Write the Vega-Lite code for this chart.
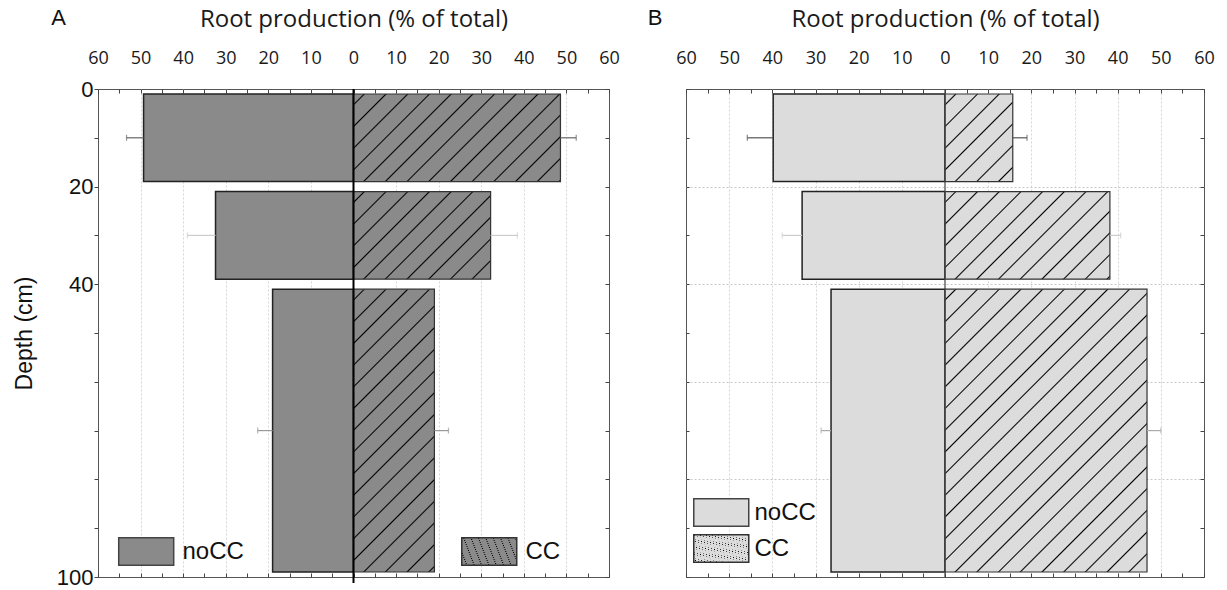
{
"$schema": "https://vega.github.io/schema/vega-lite/v6.json",
"background": "white",
"padding": {"left": 12, "top": 6, "right": 5, "bottom": 5},
"spacing": 27,
"config": {"view": {"stroke": "#555", "strokeWidth": 1}, "legend": {"layout": {"direction": "vertical", "margin": 4, "bottom-left": {"direction": "vertical", "margin": 4}}}},
"data": {"values": [
{"panel":"A","trt":"noCC","top":0,"bottom":20,"mid":10,"value":49.3,"upper":53.3},
{"panel":"A","trt":"noCC","top":20,"bottom":40,"mid":30,"value":32.4,"upper":39.0},
{"panel":"A","trt":"noCC","top":40,"bottom":100,"mid":70,"value":19.0,"upper":22.5},
{"panel":"A","trt":"CC","top":0,"bottom":20,"mid":10,"value":48.6,"upper":52.3},
{"panel":"A","trt":"CC","top":20,"bottom":40,"mid":30,"value":32.2,"upper":38.5},
{"panel":"A","trt":"CC","top":40,"bottom":100,"mid":70,"value":19.0,"upper":22.3},
{"panel":"B","trt":"noCC","top":0,"bottom":20,"mid":10,"value":39.8,"upper":45.8},
{"panel":"B","trt":"noCC","top":20,"bottom":40,"mid":30,"value":33.1,"upper":37.7},
{"panel":"B","trt":"noCC","top":40,"bottom":100,"mid":70,"value":26.4,"upper":28.7},
{"panel":"B","trt":"CC","top":0,"bottom":20,"mid":10,"value":15.7,"upper":19.0},
{"panel":"B","trt":"CC","top":20,"bottom":40,"mid":30,"value":38.2,"upper":40.7},
{"panel":"B","trt":"CC","top":40,"bottom":100,"mid":70,"value":46.8,"upper":50.0}
]},
"hconcat": [
{
"width": 511, "height": 488,
"title": {"text": "A", "anchor": "start", "font": "Liberation Sans", "fontSize": 22, "fontWeight": "normal", "color": "#111", "dx": 38, "dy": 27},
"transform": [{"filter": "datum.panel === 'A'"}],
"layer": [
{
"transform": [{"filter": "datum.trt === 'noCC'"}],
"mark": {"type": "bar", "yOffset": 5, "y2Offset": -5, "stroke": "#222", "strokeWidth": 1.5},
"encoding": {
"x": {"field": "value", "type": "quantitative", "scale": {"domain": [-60, 60], "reverse": true, "nice": false, "zero": false},
 "axis": {"orient": "bottom", "values": [-60,-55,-50,-45,-40,-35,-30,-25,-20,-15,-10,-5,0,5,10,15,20,25,30,35,40,45,50,55,60], "labels": false, "title": null, "tickSize": -4, "tickColor": "#444", "domain": false, "grid": false}},
"x2": {"datum": 0},
"y": {"field": "top", "type": "quantitative", "scale": {"domain": [0, 100], "reverse": true, "nice": false},
 "axis": {"orient": "right", "values": [0,10,20,30,40,50,60,70,80,90,100], "labels": false, "title": null, "tickSize": -4, "tickColor": "#444", "domain": false, "grid": false}},
"y2": {"field": "bottom"},
"fill": {"field": "trt", "type": "nominal", "scale": {"domain": ["noCC"], "range": ["#8a8a8a"]},
 "legend": {"title": null, "orient": "bottom-left", "offset": 8,
  "symbolType": "M-0.13,-1H3.87V1H-0.13Z", "symbolSize": 756, "symbolStrokeWidth": 1.5, "symbolStrokeColor": "#444", "symbolOpacity": 1,
  "labelFont": "Liberation Sans", "labelFontSize": 24, "labelColor": "#111", "labelOffset": 47.5}}
}
},
{
"transform": [{"filter": "datum.trt === 'noCC'"}],
"mark": {"type": "rule", "strokeWidth": 1.2},
"encoding": {
"x": {"field": "value", "type": "quantitative", "scale": {"domain": [-60, 60], "reverse": true, "nice": false, "zero": false}, "axis": null},
"x2": {"field": "upper"},
"y": {"field": "mid", "type": "quantitative", "scale": {"domain": [0, 100], "reverse": true, "nice": false}, "axis": null},
"color": {"field": "top", "type": "ordinal", "scale": {"domain": [0, 20, 40], "range": ["#666666", "#cccccc", "#999999"]}, "legend": null}
}
},
{
"transform": [{"filter": "datum.trt === 'noCC'"}],
"mark": {"type": "tick", "orient": "vertical", "size": 6, "thickness": 1.2},
"encoding": {
"x": {"field": "upper", "type": "quantitative", "scale": {"domain": [-60, 60], "reverse": true, "nice": false, "zero": false}, "axis": null},
"y": {"field": "mid", "type": "quantitative", "scale": {"domain": [0, 100], "reverse": true, "nice": false}, "axis": null},
"color": {"field": "top", "type": "ordinal", "scale": {"domain": [0, 20, 40], "range": ["#666666", "#cccccc", "#999999"]}, "legend": null}
}
},
{
"transform": [{"filter": "datum.trt === 'CC'"}],
"mark": {"type": "bar", "yOffset": 5, "y2Offset": -5, "strokeWidth": 1.2},
"encoding": {
"x": {"field": "value", "type": "quantitative", "scale": {"domain": [-60, 60], "nice": false, "zero": false},
 "axis": {"orient": "top", "values": [-60,-55,-50,-45,-40,-35,-30,-25,-20,-15,-10,-5,0,5,10,15,20,25,30,35,40,45,50,55,60],
  "labelExpr": "datum.value % 10 === 0 ? abs(datum.value) : ''", "labelOverlap": false, "labelFlush": false, "labelBound": false,
  "title": "Root production (% of total)", "titleFont": "Open Sans", "titleFontSize": 24, "titleFontWeight": "normal", "titleColor": "#1a1a1a", "titlePadding": 18,
  "labelFont": "Open Sans", "labelFontSize": 18, "labelColor": "#1a1a1a", "labelPadding": 26, "tickSize": -4, "tickColor": "#444", "domain": false,
  "grid": true, "gridColor": "#d6d6d6", "gridDash": [2, 2], "gridOpacity": {"condition": {"test": "datum.value % 10 === 0 && abs(datum.value) < 60 && datum.value !== 0", "value": 1}, "value": 0}}},
"x2": {"datum": 0},
"y": {"field": "top", "type": "quantitative", "scale": {"domain": [0, 100], "reverse": true, "nice": false},
 "axis": {"orient": "left", "values": [0,10,20,30,40,50,60,70,80,90,100], "labelExpr": "(datum.value === 0 || datum.value === 20 || datum.value === 40 || datum.value === 100) ? datum.value : ''",
  "labelOverlap": false, "labelFlush": false, "labelBound": false,
  "title": "Depth (cm)", "titleFont": "Liberation Sans", "titleFontSize": 23, "titleFontWeight": "normal", "titleColor": "#111", "titlePadding": 20,
  "labelFont": "Liberation Sans", "labelFontSize": 22, "labelColor": "#111", "labelPadding": 1, "tickSize": 4, "tickColor": "#444", "domain": false, "grid": false}},
"y2": {"field": "bottom"},
"stroke": {"field": "trt", "type": "nominal", "scale": {"domain": ["CC"], "range": ["#333333"]},
 "legend": {"title": " ", "titleOrient": "right", "titlePadding": 41, "titleFontSize": 24, "orient": "bottom-right", "offset": 8,
  "symbolType": "M-1,-1H3V1H-1Z", "symbolSize": 756, "symbolStrokeWidth": 1.5, "symbolOpacity": 1,
  "labelFont": "Liberation Sans", "labelFontSize": 24, "labelColor": "#111", "labelOffset": 35.5}},
"fill": {"condition": [
 {"test": "datum.top < 0", "value": {"gradient":"linear","x1":-125,"y1":-125,"x2":125,"y2":125,"stops":[{"offset":0,"color":"#8a8a8a"},
{"offset":0.3231,"color":"#8a8a8a"},{"offset":0.3261,"color":"#000"},{"offset":0.3291,"color":"#8a8a8a"},
{"offset":0.3666,"color":"#8a8a8a"},{"offset":0.3696,"color":"#000"},{"offset":0.3726,"color":"#8a8a8a"},
{"offset":0.4100,"color":"#8a8a8a"},{"offset":0.4130,"color":"#000"},{"offset":0.4160,"color":"#8a8a8a"},
{"offset":0.4535,"color":"#8a8a8a"},{"offset":0.4565,"color":"#000"},{"offset":0.4595,"color":"#8a8a8a"},
{"offset":0.4970,"color":"#8a8a8a"},{"offset":0.5000,"color":"#000"},{"offset":0.5030,"color":"#8a8a8a"},
{"offset":0.5405,"color":"#8a8a8a"},{"offset":0.5435,"color":"#000"},{"offset":0.5465,"color":"#8a8a8a"},
{"offset":0.5840,"color":"#8a8a8a"},{"offset":0.5870,"color":"#000"},{"offset":0.5900,"color":"#8a8a8a"},
{"offset":0.6274,"color":"#8a8a8a"},{"offset":0.6304,"color":"#000"},{"offset":0.6334,"color":"#8a8a8a"},
{"offset":0.6709,"color":"#8a8a8a"},{"offset":0.6739,"color":"#000"},{"offset":0.6769,"color":"#8a8a8a"},
{"offset":0.7144,"color":"#8a8a8a"},{"offset":0.7174,"color":"#000"},{"offset":0.7204,"color":"#8a8a8a"},
{"offset":1,"color":"#8a8a8a"}]}},
 {"test": "datum.top === 0", "value": {"gradient":"linear","x1":0,"y1":0,"x2":2.0456,"y2":0.8661,"stops":[{"offset":0,"color":"#8a8a8a"},
{"offset":0.0187,"color":"#8a8a8a"},{"offset":0.0217,"color":"#000"},{"offset":0.0247,"color":"#8a8a8a"},
{"offset":0.0622,"color":"#8a8a8a"},{"offset":0.0652,"color":"#000"},{"offset":0.0682,"color":"#8a8a8a"},
{"offset":0.1057,"color":"#8a8a8a"},{"offset":0.1087,"color":"#000"},{"offset":0.1117,"color":"#8a8a8a"},
{"offset":0.1492,"color":"#8a8a8a"},{"offset":0.1522,"color":"#000"},{"offset":0.1552,"color":"#8a8a8a"},
{"offset":0.1927,"color":"#8a8a8a"},{"offset":0.1957,"color":"#000"},{"offset":0.1987,"color":"#8a8a8a"},
{"offset":0.2361,"color":"#8a8a8a"},{"offset":0.2391,"color":"#000"},{"offset":0.2421,"color":"#8a8a8a"},
{"offset":0.2796,"color":"#8a8a8a"},{"offset":0.2826,"color":"#000"},{"offset":0.2856,"color":"#8a8a8a"},
{"offset":0.3231,"color":"#8a8a8a"},{"offset":0.3261,"color":"#000"},{"offset":0.3291,"color":"#8a8a8a"},
{"offset":0.3666,"color":"#8a8a8a"},{"offset":0.3696,"color":"#000"},{"offset":0.3726,"color":"#8a8a8a"},
{"offset":0.4100,"color":"#8a8a8a"},{"offset":0.4130,"color":"#000"},{"offset":0.4160,"color":"#8a8a8a"},
{"offset":0.4535,"color":"#8a8a8a"},{"offset":0.4565,"color":"#000"},{"offset":0.4595,"color":"#8a8a8a"},
{"offset":0.4970,"color":"#8a8a8a"},{"offset":0.5000,"color":"#000"},{"offset":0.5030,"color":"#8a8a8a"},
{"offset":0.5405,"color":"#8a8a8a"},{"offset":0.5435,"color":"#000"},{"offset":0.5465,"color":"#8a8a8a"},
{"offset":0.5840,"color":"#8a8a8a"},{"offset":0.5870,"color":"#000"},{"offset":0.5900,"color":"#8a8a8a"},
{"offset":0.6274,"color":"#8a8a8a"},{"offset":0.6304,"color":"#000"},{"offset":0.6334,"color":"#8a8a8a"},
{"offset":1,"color":"#8a8a8a"}]}},
 {"test": "datum.top === 20", "value": {"gradient":"linear","x1":0,"y1":0,"x2":2.585,"y2":1.6517,"stops":[{"offset":0,"color":"#8a8a8a"},
{"offset":0.0187,"color":"#8a8a8a"},{"offset":0.0217,"color":"#000"},{"offset":0.0247,"color":"#8a8a8a"},
{"offset":0.0622,"color":"#8a8a8a"},{"offset":0.0652,"color":"#000"},{"offset":0.0682,"color":"#8a8a8a"},
{"offset":0.1057,"color":"#8a8a8a"},{"offset":0.1087,"color":"#000"},{"offset":0.1117,"color":"#8a8a8a"},
{"offset":0.1492,"color":"#8a8a8a"},{"offset":0.1522,"color":"#000"},{"offset":0.1552,"color":"#8a8a8a"},
{"offset":0.1927,"color":"#8a8a8a"},{"offset":0.1957,"color":"#000"},{"offset":0.1987,"color":"#8a8a8a"},
{"offset":0.2361,"color":"#8a8a8a"},{"offset":0.2391,"color":"#000"},{"offset":0.2421,"color":"#8a8a8a"},
{"offset":0.2796,"color":"#8a8a8a"},{"offset":0.2826,"color":"#000"},{"offset":0.2856,"color":"#8a8a8a"},
{"offset":0.3231,"color":"#8a8a8a"},{"offset":0.3261,"color":"#000"},{"offset":0.3291,"color":"#8a8a8a"},
{"offset":0.3666,"color":"#8a8a8a"},{"offset":0.3696,"color":"#000"},{"offset":0.3726,"color":"#8a8a8a"},
{"offset":0.4100,"color":"#8a8a8a"},{"offset":0.4130,"color":"#000"},{"offset":0.4160,"color":"#8a8a8a"},
{"offset":0.4535,"color":"#8a8a8a"},{"offset":0.4565,"color":"#000"},{"offset":0.4595,"color":"#8a8a8a"},
{"offset":1,"color":"#8a8a8a"}]}}],
 "value": {"gradient":"linear","x1":0,"y1":0,"x2":0.4667,"y2":1.6314,"stops":[{"offset":0,"color":"#8a8a8a"},
{"offset":0.0187,"color":"#8a8a8a"},{"offset":0.0217,"color":"#000"},{"offset":0.0247,"color":"#8a8a8a"},
{"offset":0.0622,"color":"#8a8a8a"},{"offset":0.0652,"color":"#000"},{"offset":0.0682,"color":"#8a8a8a"},
{"offset":0.1057,"color":"#8a8a8a"},{"offset":0.1087,"color":"#000"},{"offset":0.1117,"color":"#8a8a8a"},
{"offset":0.1492,"color":"#8a8a8a"},{"offset":0.1522,"color":"#000"},{"offset":0.1552,"color":"#8a8a8a"},
{"offset":0.1927,"color":"#8a8a8a"},{"offset":0.1957,"color":"#000"},{"offset":0.1987,"color":"#8a8a8a"},
{"offset":0.2361,"color":"#8a8a8a"},{"offset":0.2391,"color":"#000"},{"offset":0.2421,"color":"#8a8a8a"},
{"offset":0.2796,"color":"#8a8a8a"},{"offset":0.2826,"color":"#000"},{"offset":0.2856,"color":"#8a8a8a"},
{"offset":0.3231,"color":"#8a8a8a"},{"offset":0.3261,"color":"#000"},{"offset":0.3291,"color":"#8a8a8a"},
{"offset":0.3666,"color":"#8a8a8a"},{"offset":0.3696,"color":"#000"},{"offset":0.3726,"color":"#8a8a8a"},
{"offset":0.4100,"color":"#8a8a8a"},{"offset":0.4130,"color":"#000"},{"offset":0.4160,"color":"#8a8a8a"},
{"offset":0.4535,"color":"#8a8a8a"},{"offset":0.4565,"color":"#000"},{"offset":0.4595,"color":"#8a8a8a"},
{"offset":0.4970,"color":"#8a8a8a"},{"offset":0.5000,"color":"#000"},{"offset":0.5030,"color":"#8a8a8a"},
{"offset":0.5405,"color":"#8a8a8a"},{"offset":0.5435,"color":"#000"},{"offset":0.5465,"color":"#8a8a8a"},
{"offset":0.5840,"color":"#8a8a8a"},{"offset":0.5870,"color":"#000"},{"offset":0.5900,"color":"#8a8a8a"},
{"offset":0.6274,"color":"#8a8a8a"},{"offset":0.6304,"color":"#000"},{"offset":0.6334,"color":"#8a8a8a"},
{"offset":0.6709,"color":"#8a8a8a"},{"offset":0.6739,"color":"#000"},{"offset":0.6769,"color":"#8a8a8a"},
{"offset":0.7144,"color":"#8a8a8a"},{"offset":0.7174,"color":"#000"},{"offset":0.7204,"color":"#8a8a8a"},
{"offset":0.7579,"color":"#8a8a8a"},{"offset":0.7609,"color":"#000"},{"offset":0.7639,"color":"#8a8a8a"},
{"offset":1,"color":"#8a8a8a"}]}}
}
},
{
"transform": [{"filter": "datum.trt === 'CC'"}],
"mark": {"type": "rule", "strokeWidth": 1.2},
"encoding": {
"x": {"field": "value", "type": "quantitative", "scale": {"domain": [-60, 60], "nice": false, "zero": false}, "axis": null},
"x2": {"field": "upper"},
"y": {"field": "mid", "type": "quantitative", "scale": {"domain": [0, 100], "reverse": true, "nice": false}, "axis": null},
"color": {"field": "top", "type": "ordinal", "scale": {"domain": [0, 20, 40], "range": ["#666666", "#cccccc", "#999999"]}, "legend": null}
}
},
{
"transform": [{"filter": "datum.trt === 'CC'"}],
"mark": {"type": "tick", "orient": "vertical", "size": 6, "thickness": 1.2},
"encoding": {
"x": {"field": "upper", "type": "quantitative", "scale": {"domain": [-60, 60], "nice": false, "zero": false}, "axis": null},
"y": {"field": "mid", "type": "quantitative", "scale": {"domain": [0, 100], "reverse": true, "nice": false}, "axis": null},
"color": {"field": "top", "type": "ordinal", "scale": {"domain": [0, 20, 40], "range": ["#666666", "#cccccc", "#999999"]}, "legend": null}
}
},
{
"data": {"values": [{}]},
"mark": {"type": "rule", "color": "#000", "strokeWidth": 2, "y2Offset": 6},
"encoding": {
"x": {"datum": 0, "type": "quantitative", "scale": {"domain": [-60, 60], "nice": false, "zero": false}, "axis": null},
"y": {"datum": 0, "type": "quantitative", "scale": {"domain": [0, 100], "reverse": true, "nice": false}, "axis": null},
"y2": {"datum": 100}
}
}
],
"resolve": {"scale": {"x": "independent"}, "axis": {"x": "independent", "y": "independent"}}
},
{
"width": 518, "height": 488,
"title": {"text": "B", "anchor": "start", "font": "Liberation Sans", "fontSize": 22, "fontWeight": "normal", "color": "#111", "dx": -28, "dy": 27},
"transform": [{"filter": "datum.panel === 'B'"}],
"layer": [
{
"transform": [{"filter": "datum.trt === 'noCC'"}],
"mark": {"type": "bar", "yOffset": 5, "y2Offset": -5, "stroke": "#222", "strokeWidth": 1.5},
"encoding": {
"x": {"field": "value", "type": "quantitative", "scale": {"domain": [-60, 60], "reverse": true, "nice": false, "zero": false},
 "axis": {"orient": "bottom", "values": [-60,-55,-50,-45,-40,-35,-30,-25,-20,-15,-10,-5,0,5,10,15,20,25,30,35,40,45,50,55,60], "labels": false, "title": null, "tickSize": -4, "tickColor": "#444", "domain": false, "grid": false}},
"x2": {"datum": 0},
"y": {"field": "top", "type": "quantitative", "scale": {"domain": [0, 100], "reverse": true, "nice": false},
 "axis": {"orient": "right", "values": [0,10,20,30,40,50,60,70,80,90,100], "labels": false, "title": null, "tickSize": -4, "tickColor": "#444", "domain": false, "grid": false}},
"y2": {"field": "bottom"},
"fill": {"field": "trt", "type": "nominal", "scale": {"domain": ["noCC"], "range": ["#dcdcdc"]},
 "legend": {"title": null, "orient": "bottom-left", "offset": 11,
  "symbolType": "M-1.29,-1H2.71V1H-1.29Z", "symbolSize": 756, "symbolStrokeWidth": 1.5, "symbolStrokeColor": "#444", "symbolOpacity": 1,
  "labelFont": "Liberation Sans", "labelFontSize": 24, "labelColor": "#111", "labelOffset": 28.5}}
}
},
{
"transform": [{"filter": "datum.trt === 'noCC'"}],
"mark": {"type": "rule", "strokeWidth": 1.2},
"encoding": {
"x": {"field": "value", "type": "quantitative", "scale": {"domain": [-60, 60], "reverse": true, "nice": false, "zero": false}, "axis": null},
"x2": {"field": "upper"},
"y": {"field": "mid", "type": "quantitative", "scale": {"domain": [0, 100], "reverse": true, "nice": false}, "axis": null},
"color": {"field": "top", "type": "ordinal", "scale": {"domain": [0, 20, 40], "range": ["#555555", "#cccccc", "#aaaaaa"]}, "legend": null}
}
},
{
"transform": [{"filter": "datum.trt === 'noCC'"}],
"mark": {"type": "tick", "orient": "vertical", "size": 6, "thickness": 1.2},
"encoding": {
"x": {"field": "upper", "type": "quantitative", "scale": {"domain": [-60, 60], "reverse": true, "nice": false, "zero": false}, "axis": null},
"y": {"field": "mid", "type": "quantitative", "scale": {"domain": [0, 100], "reverse": true, "nice": false}, "axis": null},
"color": {"field": "top", "type": "ordinal", "scale": {"domain": [0, 20, 40], "range": ["#555555", "#cccccc", "#aaaaaa"]}, "legend": null}
}
},
{
"transform": [{"filter": "datum.trt === 'CC'"}],
"mark": {"type": "bar", "yOffset": 5, "y2Offset": -5, "strokeWidth": 1.2},
"encoding": {
"x": {"field": "value", "type": "quantitative", "scale": {"domain": [-60, 60], "nice": false, "zero": false},
 "axis": {"orient": "top", "values": [-60,-55,-50,-45,-40,-35,-30,-25,-20,-15,-10,-5,0,5,10,15,20,25,30,35,40,45,50,55,60],
  "labelExpr": "datum.value % 10 === 0 ? abs(datum.value) : ''", "labelOverlap": false, "labelFlush": false, "labelBound": false,
  "title": "Root production (% of total)", "titleFont": "Open Sans", "titleFontSize": 24, "titleFontWeight": "normal", "titleColor": "#1a1a1a", "titlePadding": 18,
  "labelFont": "Open Sans", "labelFontSize": 18, "labelColor": "#1a1a1a", "labelPadding": 26, "tickSize": -4, "tickColor": "#444", "domain": false,
  "grid": true, "gridColor": "#d6d6d6", "gridDash": [2, 2], "gridOpacity": {"condition": {"test": "datum.value % 10 === 0 && abs(datum.value) < 60 && datum.value !== 0", "value": 1}, "value": 0}}},
"x2": {"datum": 0},
"y": {"field": "top", "type": "quantitative", "scale": {"domain": [0, 100], "reverse": true, "nice": false},
 "axis": {"orient": "left", "values": [0,10,20,30,40,50,60,70,80,90,100], "labels": false, "title": null, "tickSize": -3, "tickColor": "#444", "domain": false,
  "grid": true, "gridColor": "#c8c8c8", "gridDash": [2, 2], "gridOpacity": {"condition": {"test": "datum.value % 20 === 0 && datum.value > 0 && datum.value < 100", "value": 1}, "value": 0}}},
"y2": {"field": "bottom"},
"stroke": {"field": "trt", "type": "nominal", "scale": {"domain": ["CC"], "range": ["#333333"]},
 "legend": {"title": null, "orient": "bottom-left", "offset": 11,
  "symbolType": "M-1.29,-1H2.71V1H-1.29Z", "symbolSize": 756, "symbolStrokeWidth": 1.5, "symbolOpacity": 1,
  "labelFont": "Liberation Sans", "labelFontSize": 24, "labelColor": "#111", "labelOffset": 28.5}},
"fill": {"condition": [
 {"test": "datum.top < 0", "value": {"gradient":"linear","x1":-125,"y1":-125,"x2":125,"y2":125,"stops":[{"offset":0,"color":"#dcdcdc"},
{"offset":0.3231,"color":"#dcdcdc"},{"offset":0.3261,"color":"#000"},{"offset":0.3291,"color":"#dcdcdc"},
{"offset":0.3666,"color":"#dcdcdc"},{"offset":0.3696,"color":"#000"},{"offset":0.3726,"color":"#dcdcdc"},
{"offset":0.4100,"color":"#dcdcdc"},{"offset":0.4130,"color":"#000"},{"offset":0.4160,"color":"#dcdcdc"},
{"offset":0.4535,"color":"#dcdcdc"},{"offset":0.4565,"color":"#000"},{"offset":0.4595,"color":"#dcdcdc"},
{"offset":0.4970,"color":"#dcdcdc"},{"offset":0.5000,"color":"#000"},{"offset":0.5030,"color":"#dcdcdc"},
{"offset":0.5405,"color":"#dcdcdc"},{"offset":0.5435,"color":"#000"},{"offset":0.5465,"color":"#dcdcdc"},
{"offset":0.5840,"color":"#dcdcdc"},{"offset":0.5870,"color":"#000"},{"offset":0.5900,"color":"#dcdcdc"},
{"offset":0.6274,"color":"#dcdcdc"},{"offset":0.6304,"color":"#000"},{"offset":0.6334,"color":"#dcdcdc"},
{"offset":0.6709,"color":"#dcdcdc"},{"offset":0.6739,"color":"#000"},{"offset":0.6769,"color":"#dcdcdc"},
{"offset":0.7144,"color":"#dcdcdc"},{"offset":0.7174,"color":"#000"},{"offset":0.7204,"color":"#dcdcdc"},
{"offset":1,"color":"#dcdcdc"}]}},
 {"test": "datum.top === 0", "value": {"gradient":"linear","x1":0,"y1":0,"x2":2.758,"y2":3.563,"stops":[{"offset":0,"color":"#dcdcdc"},
{"offset":0.0187,"color":"#dcdcdc"},{"offset":0.0217,"color":"#000"},{"offset":0.0247,"color":"#dcdcdc"},
{"offset":0.0622,"color":"#dcdcdc"},{"offset":0.0652,"color":"#000"},{"offset":0.0682,"color":"#dcdcdc"},
{"offset":0.1057,"color":"#dcdcdc"},{"offset":0.1087,"color":"#000"},{"offset":0.1117,"color":"#dcdcdc"},
{"offset":0.1492,"color":"#dcdcdc"},{"offset":0.1522,"color":"#000"},{"offset":0.1552,"color":"#dcdcdc"},
{"offset":0.1927,"color":"#dcdcdc"},{"offset":0.1957,"color":"#000"},{"offset":0.1987,"color":"#dcdcdc"},
{"offset":0.2361,"color":"#dcdcdc"},{"offset":0.2391,"color":"#000"},{"offset":0.2421,"color":"#dcdcdc"},
{"offset":0.2796,"color":"#dcdcdc"},{"offset":0.2826,"color":"#000"},{"offset":0.2856,"color":"#dcdcdc"},
{"offset":0.3231,"color":"#dcdcdc"},{"offset":0.3261,"color":"#000"},{"offset":0.3291,"color":"#dcdcdc"},
{"offset":1,"color":"#dcdcdc"}]}},
 {"test": "datum.top === 20", "value": {"gradient":"linear","x1":0,"y1":0,"x2":2.3605,"y2":1.254,"stops":[{"offset":0,"color":"#dcdcdc"},
{"offset":0.0187,"color":"#dcdcdc"},{"offset":0.0217,"color":"#000"},{"offset":0.0247,"color":"#dcdcdc"},
{"offset":0.0622,"color":"#dcdcdc"},{"offset":0.0652,"color":"#000"},{"offset":0.0682,"color":"#dcdcdc"},
{"offset":0.1057,"color":"#dcdcdc"},{"offset":0.1087,"color":"#000"},{"offset":0.1117,"color":"#dcdcdc"},
{"offset":0.1492,"color":"#dcdcdc"},{"offset":0.1522,"color":"#000"},{"offset":0.1552,"color":"#dcdcdc"},
{"offset":0.1927,"color":"#dcdcdc"},{"offset":0.1957,"color":"#000"},{"offset":0.1987,"color":"#dcdcdc"},
{"offset":0.2361,"color":"#dcdcdc"},{"offset":0.2391,"color":"#000"},{"offset":0.2421,"color":"#dcdcdc"},
{"offset":0.2796,"color":"#dcdcdc"},{"offset":0.2826,"color":"#000"},{"offset":0.2856,"color":"#dcdcdc"},
{"offset":0.3231,"color":"#dcdcdc"},{"offset":0.3261,"color":"#000"},{"offset":0.3291,"color":"#dcdcdc"},
{"offset":0.3666,"color":"#dcdcdc"},{"offset":0.3696,"color":"#000"},{"offset":0.3726,"color":"#dcdcdc"},
{"offset":0.4100,"color":"#dcdcdc"},{"offset":0.4130,"color":"#000"},{"offset":0.4160,"color":"#dcdcdc"},
{"offset":0.4535,"color":"#dcdcdc"},{"offset":0.4565,"color":"#000"},{"offset":0.4595,"color":"#dcdcdc"},
{"offset":0.4970,"color":"#dcdcdc"},{"offset":0.5000,"color":"#000"},{"offset":0.5030,"color":"#dcdcdc"},
{"offset":1,"color":"#dcdcdc"}]}}],
 "value": {"gradient":"linear","x1":0,"y1":0,"x2":0.8347,"y2":1.1686,"stops":[{"offset":0,"color":"#dcdcdc"},
{"offset":0.0187,"color":"#dcdcdc"},{"offset":0.0217,"color":"#000"},{"offset":0.0247,"color":"#dcdcdc"},
{"offset":0.0622,"color":"#dcdcdc"},{"offset":0.0652,"color":"#000"},{"offset":0.0682,"color":"#dcdcdc"},
{"offset":0.1057,"color":"#dcdcdc"},{"offset":0.1087,"color":"#000"},{"offset":0.1117,"color":"#dcdcdc"},
{"offset":0.1492,"color":"#dcdcdc"},{"offset":0.1522,"color":"#000"},{"offset":0.1552,"color":"#dcdcdc"},
{"offset":0.1927,"color":"#dcdcdc"},{"offset":0.1957,"color":"#000"},{"offset":0.1987,"color":"#dcdcdc"},
{"offset":0.2361,"color":"#dcdcdc"},{"offset":0.2391,"color":"#000"},{"offset":0.2421,"color":"#dcdcdc"},
{"offset":0.2796,"color":"#dcdcdc"},{"offset":0.2826,"color":"#000"},{"offset":0.2856,"color":"#dcdcdc"},
{"offset":0.3231,"color":"#dcdcdc"},{"offset":0.3261,"color":"#000"},{"offset":0.3291,"color":"#dcdcdc"},
{"offset":0.3666,"color":"#dcdcdc"},{"offset":0.3696,"color":"#000"},{"offset":0.3726,"color":"#dcdcdc"},
{"offset":0.4100,"color":"#dcdcdc"},{"offset":0.4130,"color":"#000"},{"offset":0.4160,"color":"#dcdcdc"},
{"offset":0.4535,"color":"#dcdcdc"},{"offset":0.4565,"color":"#000"},{"offset":0.4595,"color":"#dcdcdc"},
{"offset":0.4970,"color":"#dcdcdc"},{"offset":0.5000,"color":"#000"},{"offset":0.5030,"color":"#dcdcdc"},
{"offset":0.5405,"color":"#dcdcdc"},{"offset":0.5435,"color":"#000"},{"offset":0.5465,"color":"#dcdcdc"},
{"offset":0.5840,"color":"#dcdcdc"},{"offset":0.5870,"color":"#000"},{"offset":0.5900,"color":"#dcdcdc"},
{"offset":0.6274,"color":"#dcdcdc"},{"offset":0.6304,"color":"#000"},{"offset":0.6334,"color":"#dcdcdc"},
{"offset":0.6709,"color":"#dcdcdc"},{"offset":0.6739,"color":"#000"},{"offset":0.6769,"color":"#dcdcdc"},
{"offset":0.7144,"color":"#dcdcdc"},{"offset":0.7174,"color":"#000"},{"offset":0.7204,"color":"#dcdcdc"},
{"offset":0.7579,"color":"#dcdcdc"},{"offset":0.7609,"color":"#000"},{"offset":0.7639,"color":"#dcdcdc"},
{"offset":0.8014,"color":"#dcdcdc"},{"offset":0.8044,"color":"#000"},{"offset":0.8074,"color":"#dcdcdc"},
{"offset":0.8448,"color":"#dcdcdc"},{"offset":0.8478,"color":"#000"},{"offset":0.8508,"color":"#dcdcdc"},
{"offset":0.8883,"color":"#dcdcdc"},{"offset":0.8913,"color":"#000"},{"offset":0.8943,"color":"#dcdcdc"},
{"offset":0.9318,"color":"#dcdcdc"},{"offset":0.9348,"color":"#000"},{"offset":0.9378,"color":"#dcdcdc"},
{"offset":0.9753,"color":"#dcdcdc"},{"offset":0.9783,"color":"#000"},{"offset":0.9813,"color":"#dcdcdc"},
{"offset":1,"color":"#dcdcdc"}]}}
}
},
{
"transform": [{"filter": "datum.trt === 'CC'"}],
"mark": {"type": "rule", "strokeWidth": 1.2},
"encoding": {
"x": {"field": "value", "type": "quantitative", "scale": {"domain": [-60, 60], "nice": false, "zero": false}, "axis": null},
"x2": {"field": "upper"},
"y": {"field": "mid", "type": "quantitative", "scale": {"domain": [0, 100], "reverse": true, "nice": false}, "axis": null},
"color": {"field": "top", "type": "ordinal", "scale": {"domain": [0, 20, 40], "range": ["#999999", "#cccccc", "#777777"]}, "legend": null}
}
},
{
"transform": [{"filter": "datum.trt === 'CC'"}],
"mark": {"type": "tick", "orient": "vertical", "size": 6, "thickness": 1.2},
"encoding": {
"x": {"field": "upper", "type": "quantitative", "scale": {"domain": [-60, 60], "nice": false, "zero": false}, "axis": null},
"y": {"field": "mid", "type": "quantitative", "scale": {"domain": [0, 100], "reverse": true, "nice": false}, "axis": null},
"color": {"field": "top", "type": "ordinal", "scale": {"domain": [0, 20, 40], "range": ["#999999", "#cccccc", "#777777"]}, "legend": null}
}
},
{
"data": {"values": [{}]},
"mark": {"type": "rule", "color": "#444", "strokeWidth": 1.2},
"encoding": {
"x": {"datum": 0, "type": "quantitative", "scale": {"domain": [-60, 60], "nice": false, "zero": false}, "axis": null},
"y": {"datum": 0, "type": "quantitative", "scale": {"domain": [0, 100], "reverse": true, "nice": false}, "axis": null},
"y2": {"datum": 100}
}
}
],
"resolve": {"scale": {"x": "independent"}, "axis": {"x": "independent", "y": "independent"}}
}
],
"resolve": {"scale": {"fill": "independent", "stroke": "independent", "color": "independent"}, "legend": {"fill": "independent", "stroke": "independent"}}
}
